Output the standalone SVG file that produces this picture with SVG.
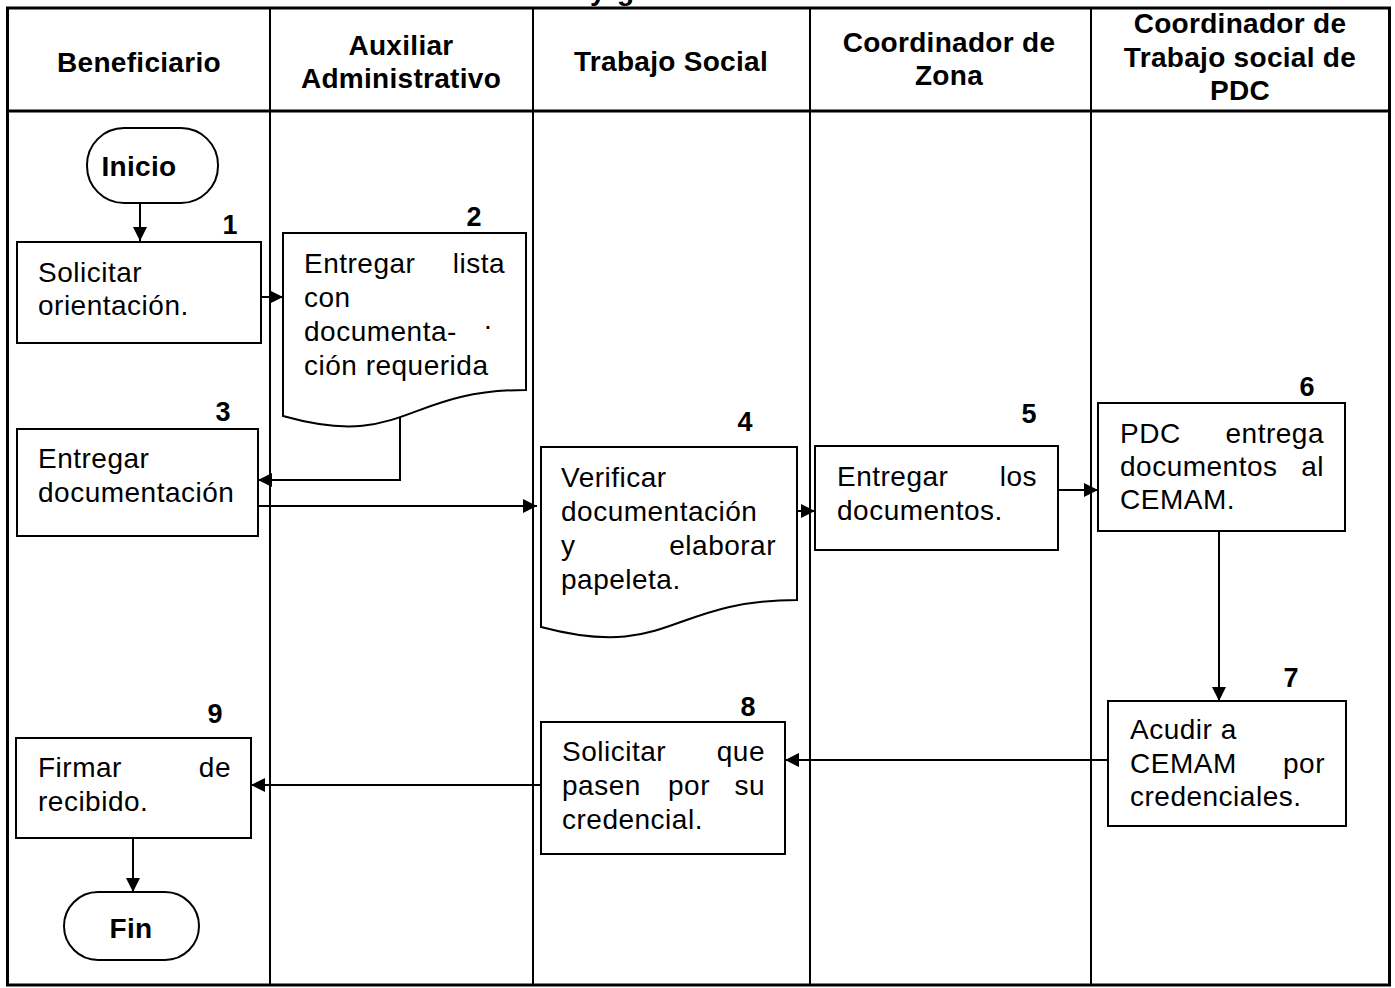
<svg xmlns="http://www.w3.org/2000/svg" width="1395" height="988" viewBox="0 0 1395 988">
  <style>
    .lane { fill: none; stroke: #000; stroke-width: 2; }
    .frame { fill: none; stroke: #000; stroke-width: 3; }
    .box { fill: #fff; stroke: #000; stroke-width: 2; }
    .conn { fill: none; stroke: #000; stroke-width: 2; }
    .hd { font-family: "Liberation Sans", Arial, sans-serif; font-weight: bold; font-size: 28px; letter-spacing: 0.3px; text-anchor: middle; fill: #000; }
    .t { font-family: "Liberation Sans", Arial, sans-serif; font-size: 28px; letter-spacing: 0.5px; fill: #000; }
    .r { text-anchor: end; }
    .m { text-anchor: middle; }
    .num { font-family: "Liberation Sans", Arial, sans-serif; font-weight: bold; font-size: 27px; text-anchor: middle; fill: #000; }
    .term { font-family: "Liberation Sans", Arial, sans-serif; font-weight: bold; font-size: 28px; letter-spacing: 0.3px; text-anchor: middle; fill: #000; }
  </style>
  <defs>
    <marker id="arrow" markerUnits="userSpaceOnUse" markerWidth="14" markerHeight="14" refX="14" refY="7" orient="auto">
      <path d="M0,0 L14,7 L0,14 Z" fill="#000"/>
    </marker>
  </defs>

  <rect width="1395" height="988" fill="#fff"/>

  <!-- title line above the table, cut off by the page edge -->
  <text class="hd" x="590" y="0" style="text-anchor:start" font-size="26">y</text>
  <text class="hd" x="617" y="0" style="text-anchor:start" font-size="26">g</text>

  <!-- swimlane table -->
  <g id="lanes">
    <rect class="frame" x="7.5" y="8" width="1382" height="977"/>
    <line class="frame" x1="7.5" y1="111" x2="1389.5" y2="111"/>
    <line class="lane" x1="270" y1="8" x2="270" y2="985"/>
    <line class="lane" x1="533" y1="8" x2="533" y2="985"/>
    <line class="lane" x1="810" y1="8" x2="810" y2="985"/>
    <line class="lane" x1="1091" y1="8" x2="1091" y2="985"/>
    <text class="hd" x="139" y="72">Beneficiario</text>
    <text class="hd" x="401" y="55">Auxiliar</text>
    <text class="hd" x="401" y="88">Administrativo</text>
    <text class="hd" x="671" y="71">Trabajo Social</text>
    <text class="hd" x="949" y="52">Coordinador de</text>
    <text class="hd" x="949" y="85">Zona</text>
    <text class="hd" x="1240" y="33">Coordinador de</text>
    <text class="hd" x="1240" y="67">Trabajo social de</text>
    <text class="hd" x="1240" y="100">PDC</text>
  </g>

  <!-- connectors -->
  <g id="connectors">
    <path class="conn" d="M140,203 V241" marker-end="url(#arrow)"/>
    <path class="conn" d="M261,297 H283" marker-end="url(#arrow)"/>
    <path class="conn" d="M400,416 V480 H258" marker-end="url(#arrow)"/>
    <path class="conn" d="M258,506 H537" marker-end="url(#arrow)"/>
    <path class="conn" d="M797,511 H815" marker-end="url(#arrow)"/>
    <path class="conn" d="M1058,490 H1098" marker-end="url(#arrow)"/>
    <path class="conn" d="M1219,531 V701" marker-end="url(#arrow)"/>
    <path class="conn" d="M1108,760 H785" marker-end="url(#arrow)"/>
    <path class="conn" d="M541,785 H251" marker-end="url(#arrow)"/>
    <path class="conn" d="M133,838 V892" marker-end="url(#arrow)"/>
  </g>

  <g id="inicio">
    <rect class="box" x="87" y="128" width="131" height="75" rx="37" ry="37"/>
    <text class="term" x="139" y="176">Inicio</text>
  </g>

  <g id="step1">
    <text class="num" x="230" y="234">1</text>
    <rect class="box" x="17" y="242" width="244" height="101"/>
    <text class="t" x="38" y="282">Solicitar</text>
    <text class="t" x="38" y="315">orientación.</text>
  </g>

  <g id="step2">
    <text class="num" x="474" y="226">2</text>
    <path class="box" d="M283,233 H526 V390 C404,390 404,450 283,416 Z"/>
    <text class="t" x="304" y="273">Entregar</text>
    <text class="t r" x="505" y="273">lista</text>
    <text class="t" x="304" y="307">con</text>
    <text class="t" x="304" y="341">documenta-</text>
    <text class="t" x="484" y="329">.</text>
    <text class="t" x="304" y="375">ción requerida</text>
  </g>

  <g id="step3">
    <text class="num" x="223" y="421">3</text>
    <rect class="box" x="17" y="429" width="241" height="107"/>
    <text class="t" x="38" y="468">Entregar</text>
    <text class="t" x="38" y="502">documentación</text>
  </g>

  <g id="step4">
    <text class="num" x="745" y="431">4</text>
    <path class="box" d="M541,447 H797 V600 C669,600 669,661 541,627 Z"/>
    <text class="t" x="561" y="487">Verificar</text>
    <text class="t" x="561" y="521">documentación</text>
    <text class="t" x="561" y="555">y</text>
    <text class="t r" x="776" y="555">elaborar</text>
    <text class="t" x="561" y="589">papeleta.</text>
  </g>

  <g id="step5">
    <text class="num" x="1029" y="423">5</text>
    <rect class="box" x="815" y="446" width="243" height="104"/>
    <text class="t" x="837" y="486">Entregar</text>
    <text class="t r" x="1037" y="486">los</text>
    <text class="t" x="837" y="520">documentos.</text>
  </g>

  <g id="step6">
    <text class="num" x="1307" y="396">6</text>
    <rect class="box" x="1098" y="403" width="247" height="128"/>
    <text class="t" x="1120" y="443">PDC</text>
    <text class="t r" x="1324" y="443">entrega</text>
    <text class="t" x="1120" y="476">documentos</text>
    <text class="t r" x="1324" y="476">al</text>
    <text class="t" x="1120" y="509">CEMAM.</text>
  </g>

  <g id="step7">
    <text class="num" x="1291" y="687">7</text>
    <rect class="box" x="1108" y="701" width="238" height="125"/>
    <text class="t" x="1130" y="739">Acudir a</text>
    <text class="t" x="1130" y="773">CEMAM</text>
    <text class="t r" x="1325" y="773">por</text>
    <text class="t" x="1130" y="806">credenciales.</text>
  </g>

  <g id="step8">
    <text class="num" x="748" y="716">8</text>
    <rect class="box" x="541" y="722" width="244" height="132"/>
    <text class="t" x="562" y="761">Solicitar</text>
    <text class="t r" x="765" y="761">que</text>
    <text class="t" x="562" y="795">pasen</text>
    <text class="t m" x="689" y="795">por</text>
    <text class="t r" x="765" y="795">su</text>
    <text class="t" x="562" y="829">credencial.</text>
  </g>

  <g id="step9">
    <text class="num" x="215" y="723">9</text>
    <rect class="box" x="16" y="738" width="235" height="100"/>
    <text class="t" x="38" y="777">Firmar</text>
    <text class="t r" x="231" y="777">de</text>
    <text class="t" x="38" y="811">recibido.</text>
  </g>

  <g id="fin">
    <rect class="box" x="64" y="892" width="135" height="68" rx="34" ry="34"/>
    <text class="term" x="131" y="938">Fin</text>
  </g>
</svg>
